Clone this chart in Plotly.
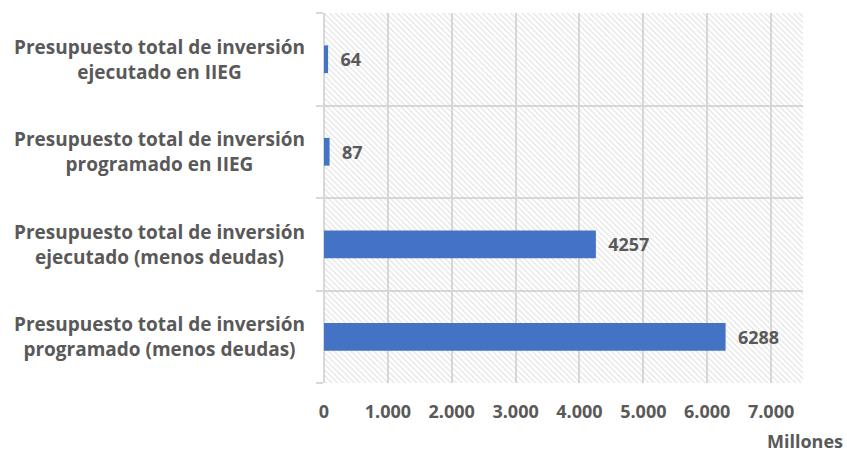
import plotly.graph_objects as go

categories = [
    "Presupuesto total de inversión<br>programado (menos deudas)",
    "Presupuesto total de inversión<br>ejecutado (menos deudas)",
    "Presupuesto total de inversión<br>programado en IIEG",
    "Presupuesto total de inversión<br>ejecutado en IIEG",
]
values = [6288, 4257, 87, 64]
tick_vals = [0, 1000, 2000, 3000, 4000, 5000, 6000, 7000]
tick_text = ["0", "1.000", "2.000", "3.000", "4.000", "5.000", "6.000", "7.000"]
x_max = 7500
unit_label = "Millones"

font_fam = "Open Sans, Segoe UI, sans-serif"
txt_col = "#595959"
grid_col = "#d9d9d9"

fig = go.Figure()

# hatched background band for each category
fig.add_trace(go.Bar(
    y=categories, x=[x_max] * len(categories), orientation="h", width=1,
    marker=dict(color="rgba(0,0,0,0)", line=dict(width=0),
                pattern=dict(shape="\\", fgcolor="#c8c8c8", bgcolor="rgba(0,0,0,0)",
                             size=4, solidity=0.3)),
    hoverinfo="skip", showlegend=False,
))

fig.add_trace(go.Bar(
    y=categories, x=values, orientation="h", width=0.3,
    marker=dict(color="#4472C4", line=dict(width=0)),
    text=["\u00a0\u00a0" + str(v) for v in values], textposition="outside",
    textfont=dict(family=font_fam, size=18, color=txt_col, weight="bold"),
    cliponaxis=False, showlegend=False,
))

annotations = []
for c in categories:
    annotations.append(dict(
        x=-0.344, xref="paper", y=c, yref="y", text="<b>%s</b>" % c,
        showarrow=False, xanchor="center", yanchor="middle", align="center",
        font=dict(family=font_fam, size=19, color=txt_col),
    ))
annotations.append(dict(
    x=1.0, xref="paper", xshift=42, y=-0.157, yref="paper",
    text="<b>%s</b>" % unit_label,
    showarrow=False, xanchor="right", yanchor="middle",
    font=dict(family=font_fam, size=18, color=txt_col),
))

fig.update_layout(
    width=847, height=455,
    margin=dict(l=324, r=44, t=13, b=72),
    barmode="overlay",
    plot_bgcolor="white", paper_bgcolor="white",
    font=dict(family=font_fam, size=18, color=txt_col),
    annotations=annotations,
    xaxis=dict(
        range=[0, x_max], tickvals=tick_vals, ticktext=tick_text,
        showgrid=True, gridcolor=grid_col, gridwidth=1.5,
        zeroline=True, zerolinecolor=grid_col, zerolinewidth=1.5,
        ticks="outside", ticklen=12, tickcolor="rgba(0,0,0,0)",
        tickfont=dict(family=font_fam, size=18, color=txt_col, weight="bold"),
        showline=False, fixedrange=True,
    ),
    yaxis=dict(
        type="category", categoryorder="array", categoryarray=categories,
        range=[-0.5, 3.5], tickson="boundaries",
        showgrid=True, gridcolor=grid_col, gridwidth=1.5,
        ticks="outside", ticklen=7, tickcolor=grid_col, tickwidth=1.5,
        showticklabels=False, showline=False, fixedrange=True,
    ),
)

fig.write_html(
    "out.html",
    config={"displayModeBar": False},
    post_script="document.body.style.margin='0';document.body.style.overflow='hidden';",
)
